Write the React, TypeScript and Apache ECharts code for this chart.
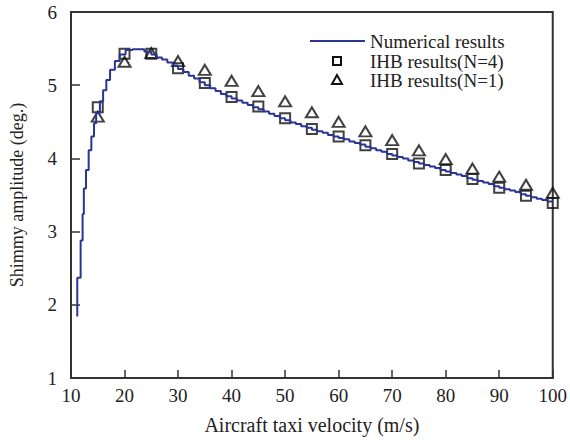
import React, { useEffect, useRef } from "react";
import * as echarts from "echarts";

const curveV = [
  11.17, 11.8, 12.17, 12.4, 12.8, 13.3, 13.8, 14.3, 14.7, 15.4, 16.0, 16.6, 17.3, 18.2, 19.1, 20.2, 21.5, 23.7,
  25, 26, 27, 28, 29, 30, 31, 32, 33, 34, 35, 36, 37, 38, 39, 40, 41, 42, 43, 44, 45, 46, 47, 48, 49, 50,
  51, 52, 53, 54, 55, 56, 57, 58, 59, 60, 61, 62, 63, 64, 65, 66, 67, 68, 69, 70, 71, 72, 73, 74, 75,
  76, 77, 78, 79, 80, 81, 82, 83, 84, 85, 86, 87, 88, 89, 90, 91, 92, 93, 94, 95, 96, 97, 98, 99, 100,
];
const curveA = [
  1.84, 2.37, 2.88, 3.24, 3.59, 3.84, 4.11, 4.3, 4.48, 4.62, 4.78, 4.93, 5.07, 5.21, 5.33, 5.42, 5.48, 5.49,
  5.46, 5.42, 5.38, 5.35, 5.31, 5.27, 5.22, 5.18, 5.13, 5.09, 5.04, 5.0, 4.96, 4.92, 4.88, 4.85, 4.82, 4.79, 4.76, 4.73, 4.7, 4.67, 4.64, 4.61, 4.58, 4.55,
  4.52, 4.49, 4.47, 4.44, 4.42, 4.39, 4.37, 4.35, 4.32, 4.3, 4.28, 4.26, 4.23, 4.21, 4.19, 4.16, 4.14, 4.11, 4.09, 4.06, 4.04, 4.02, 4.0, 3.97, 3.95,
  3.93, 3.91, 3.89, 3.87, 3.84, 3.82, 3.8, 3.78, 3.76, 3.73, 3.71, 3.69, 3.67, 3.65, 3.62, 3.6, 3.58, 3.56, 3.54, 3.51, 3.49, 3.47, 3.45, 3.43, 3.41,
];

const ihbV = [15, 20, 25, 30, 35, 40, 45, 50, 55, 60, 65, 70, 75, 80, 85, 90, 95, 100];
const ihbN4 = [4.7, 5.43, 5.43, 5.23, 5.03, 4.84, 4.71, 4.55, 4.4, 4.3, 4.18, 4.06, 3.93, 3.84, 3.72, 3.6, 3.49, 3.39];
const ihbN1 = [4.57, 5.32, 5.44, 5.33, 5.21, 5.06, 4.92, 4.78, 4.63, 4.5, 4.37, 4.25, 4.11, 3.99, 3.86, 3.75, 3.64, 3.53];

const seriesNames = ["Numerical results", "IHB results(N=4)", "IHB results(N=1)"];
const xTitle = "Aircraft taxi velocity (m/s)";
const yTitle = "Shimmy amplitude (deg.)";

const FONT = "Liberation Serif";
const TXT = "#222";
const LINE_COLOR = "#2b3594";
const MARK = "#111";

export default function App() {
  const ref = useRef<HTMLDivElement>(null);
  useEffect(() => {
    if (!ref.current) return;
    const chart = echarts.init(ref.current, null, { renderer: "svg" });
    const markerStyle = { color: "rgba(0,0,0,0)", borderColor: MARK, borderWidth: 2 };
    const legendText = (y: number, t: string) => ({
      type: "text",
      x: 370,
      y: y,
      style: { text: t, font: `19px "${FONT}"`, fill: TXT, verticalAlign: "middle", align: "left" },
    });
    chart.setOption({
      animation: false,
      backgroundColor: "#fff",
      textStyle: { fontFamily: FONT, color: TXT },
      grid: { left: 71, right: 13, top: 12, bottom: 62, show: true, borderColor: "#333", borderWidth: 2, backgroundColor: "transparent" },
      legend: { show: false },
      graphic: [
        { type: "line", shape: { x1: 310, y1: 41, x2: 365, y2: 41 }, style: { stroke: LINE_COLOR, lineWidth: 2 } },
        legendText(41, seriesNames[0]),
        { type: "rect", shape: { x: 333, y: 57, width: 8, height: 8 }, style: { fill: "none", stroke: MARK, lineWidth: 2 } },
        legendText(61, seriesNames[1]),
        { type: "polygon", shape: { points: [[337, 75], [332, 84], [342, 84]] }, style: { fill: "none", stroke: MARK, lineWidth: 2 } },
        legendText(80, seriesNames[2]),
      ],
      xAxis: {
        type: "value",
        min: 10,
        max: 100,
        interval: 10,
        name: xTitle,
        nameLocation: "middle",
        nameGap: 37,
        nameTextStyle: { fontFamily: FONT, fontSize: 20, color: TXT },
        axisLine: { show: true, onZero: false, lineStyle: { color: "#333", width: 2 } },
        axisTick: { show: true, inside: true, length: 8, lineStyle: { color: "#333", width: 1.5 } },
        axisLabel: { fontFamily: FONT, fontSize: 19, color: TXT, margin: 8 },
        splitLine: { show: false },
      },
      yAxis: {
        type: "value",
        min: 1,
        max: 6,
        interval: 1,
        name: yTitle,
        nameLocation: "middle",
        nameGap: 45,
        nameRotate: 90,
        nameTextStyle: { fontFamily: FONT, fontSize: 18, color: TXT },
        axisLine: { show: true, onZero: false, lineStyle: { color: "#333", width: 2 } },
        axisTick: { show: true, inside: true, length: 9, lineStyle: { color: "#333", width: 1.5 } },
        axisLabel: { fontFamily: FONT, fontSize: 19, color: TXT, margin: 14 },
        splitLine: { show: false },
      },
      series: [
        {
          name: seriesNames[0],
          type: "line",
          step: "start",
          showSymbol: false,
          symbol: "none",
          data: curveV.map((v, i) => [v, curveA[i]]),
          lineStyle: { color: LINE_COLOR, width: 2 },
          itemStyle: { color: LINE_COLOR },
        },
        {
          name: seriesNames[1],
          type: "scatter",
          symbol: "rect",
          symbolSize: 10,
          data: ihbV.map((v, i) => [v, ihbN4[i]]),
          itemStyle: markerStyle,
        },
        {
          name: seriesNames[2],
          type: "scatter",
          symbol: "triangle",
          symbolSize: [12, 10],
          data: ihbV.map((v, i) => [v, ihbN1[i]]),
          itemStyle: markerStyle,
        },
      ],
    });
    return () => chart.dispose();
  }, []);
  return <div ref={ref} style={{ width: 570, height: 440, position: "absolute", left: 0, top: 0 }} />;
}
